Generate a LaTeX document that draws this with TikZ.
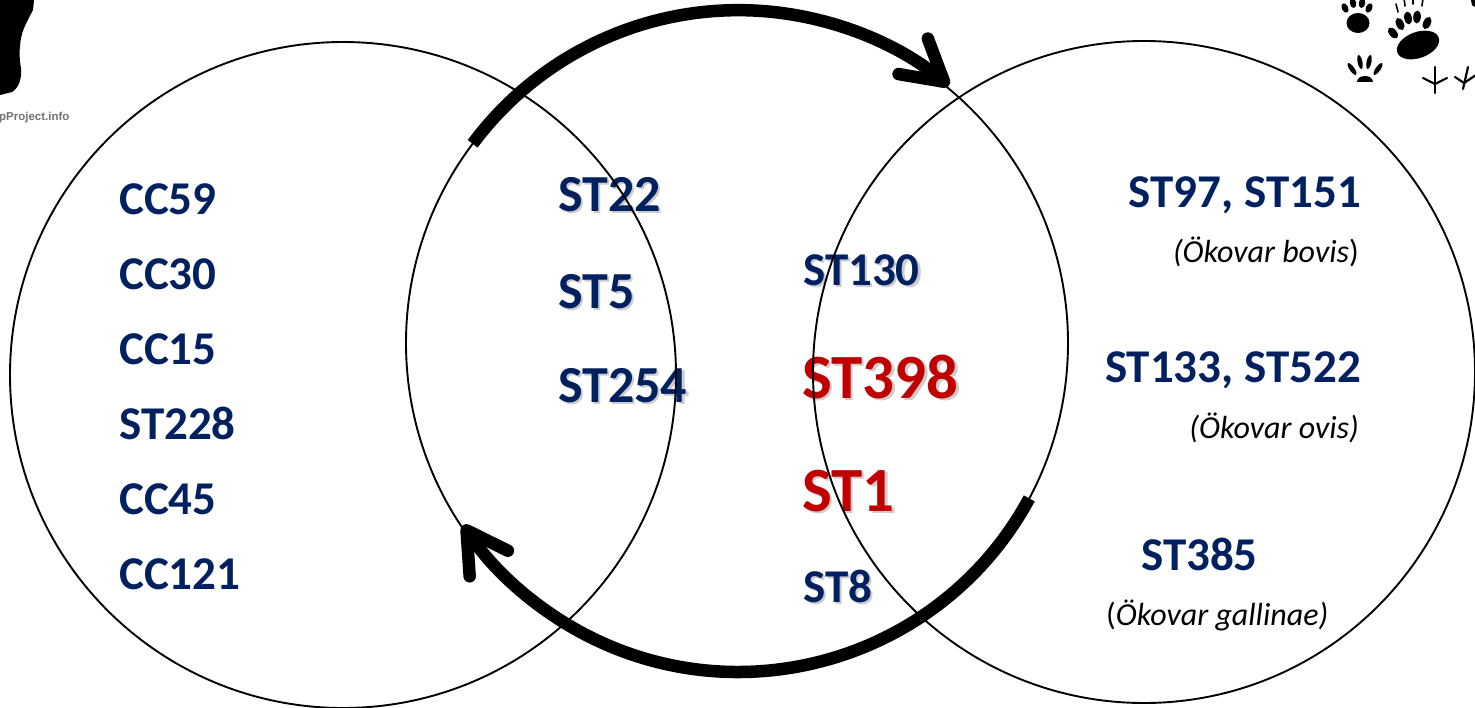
\documentclass[tikz,border=0pt]{standalone}
\usepackage{fontspec}
\setmainfont{Carlito}
\newfontfamily\sitefont{Liberation Sans}
\usetikzlibrary{arrows.meta}
\definecolor{navy}{HTML}{002060}
\definecolor{deepred}{HTML}{C00000}

% label with a soft drop shadow: name, x, y, style, text
\newcommand\shlabel[5]{%
  \node[#4, text=black, opacity=.2] (#1-shadow) at (#2+2.5,#3-2.5) {#5};
  \node[#4] (#1) at (#2,#3) {#5};}

\begin{document}
\begin{tikzpicture}[x=1pt,y=1pt,
  ring/.style={draw, circle, line width=1.9pt, minimum size=#1, inner sep=0pt, outer sep=0pt},
  cyclearrow/.style={line width=12.5pt, -{Straight Barb[length=40pt,width=46pt,round]}},
  blue47/.style={text=navy, font=\fontsize{47}{47}\selectfont\bfseries, inner sep=0pt, anchor=base west},
  blue52/.style={blue47, font=\fontsize{52}{52}\selectfont\bfseries},
  red63/.style={blue47, text=deepred, font=\fontsize{63}{63}\selectfont\bfseries},
  hostname/.style={font=\fontsize{32}{32}\selectfont, inner sep=0pt},
  track/.style={line width=2.2pt, line cap=round}
]
\useasboundingbox (0,0) rectangle (1475,-707);

% clonal complexes of the left set
\node[blue47] (cc59)  at (119,-214) {CC59};
\node[blue47] (cc30)  at (119,-289) {CC30};
\node[blue47] (cc15)  at (119,-364) {CC15};
\node[blue47] (st228) at (119,-439) {ST228};
\node[blue47] (cc45)  at (119,-514) {CC45};
\node[blue47] (cc121) at (119,-589) {CC121};

% shared sequence types
\shlabel{st22}{558}{-211}{blue52}{ST22}
\shlabel{st5}{558}{-308}{blue52}{ST5}
\shlabel{st254}{558}{-402}{blue52}{ST254}
\shlabel{st130}{803}{-285}{blue47}{ST130}
\shlabel{st398}{802}{-398}{red63}{ST398}
\shlabel{st1}{802}{-511}{red63}{ST1}
\shlabel{st8}{803}{-602}{blue47}{ST8}

% animal-associated types
\node[blue47, anchor=base east] (st97)  at (1361,-207) {ST97, ST151};
\node[hostname, anchor=base east] (bovis) at (1359,-262) {\textit{(Ökovar bovis})};
\node[blue47, anchor=base east] (st133) at (1361,-382) {ST133, ST522};
\node[hostname, anchor=base east] (ovis) at (1359,-438) {\textit{(Ökovar ovis)}};
\node[blue47] (st385) at (1141,-570) {ST385};
\node[hostname, anchor=base west] (gall) at (1106,-625) {(\textit{Ökovar gallinae)}};

% the three sets
\node[ring=666pt] (left)  at (343,-375) {};
\node[ring=662pt] (mid)   at (737,-343) {};
\node[ring=662pt] (right) at (1144,-372) {};

% exchange arrows running along the middle set
\draw[cyclearrow] (mid.143.4) arc[start angle=143.4, end angle=50.5, radius=331pt];
\draw[cyclearrow] (mid.-28.4) arc[start angle=-28.4, end angle=-146.2, radius=331pt];

% logo fragment, top left
\fill[black] (0,0) -- (34,0) -- (33,-10) .. controls (30,-16) and (25,-24) .. (22,-34)
  .. controls (19,-46) and (19,-58) .. (21,-68) .. controls (22,-78) and (19,-88) .. (12,-92)
  -- (0,-95) -- cycle;
\node[font=\sitefont\bfseries\fontsize{11.5}{11.5}\selectfont, text=black!55, inner sep=0pt, anchor=west] (site) at (-1,-118) {pProject.info};

% tracks, top right
\fill (1358,-23) ellipse[x radius=11.5, y radius=10];
\foreach \tx/\ty/\rot in {1345/-8/25, 1353/-3/10, 1362/-3/-10, 1369/-8/-25}
  \fill[rotate around={\rot:(\tx,\ty)}] (\tx,\ty) ellipse[x radius=3.2, y radius=5];
\fill[rotate around={20:(1418,-45)}] (1418,-45) ellipse[x radius=22, y radius=13];
\foreach \tx/\ty/\rot in {1393/-33/40, 1400/-24/25, 1408/-18/10, 1417/-17/-5, 1427/-23/-25}
  \fill[rotate around={\rot:(\tx,\ty)}] (\tx,\ty) ellipse[x radius=3.8, y radius=6.5];
\foreach \cx/\cy/\dx in {1398/-12/-2, 1405/-6/-1, 1413/-4/0, 1422/-6/1}
  \draw[line width=1.6pt, line cap=round] (\cx,\cy) -- ++(\dx,8);
\fill (1357,-82) .. controls (1357,-74) and (1373,-74) .. (1373,-82) -- cycle;
\foreach \tx/\ty/\rot in {1352/-69/35, 1360/-62/12, 1369/-62/-12, 1378/-69/-35}
  \fill[rotate around={\rot:(\tx,\ty)}] (\tx,\ty) ellipse[x radius=2.4, y radius=7];
\draw[track] (1435,-67) -- (1435,-93);
\draw[track] (1435,-84) -- (1423,-78);
\draw[track] (1435,-84) -- (1447,-78);
\draw[track] (1468,-67) -- (1463,-89);
\draw[track] (1464,-83) -- (1455,-77);
\draw[track] (1464,-83) -- (1476,-75);
\fill (1471,0) -- (1475,0) -- (1475,-7) .. controls (1472,-6) .. (1471,0) -- cycle;
\end{tikzpicture}
\end{document}
